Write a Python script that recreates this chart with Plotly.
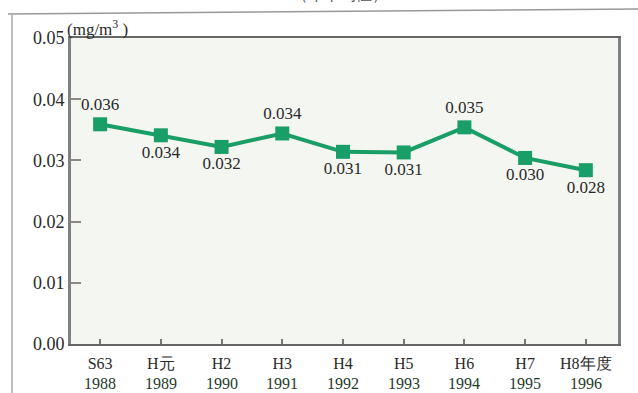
import plotly.graph_objects as go

# Annual mean concentration (mg/m3), fiscal years S63 (1988) to H8 (1996)
era_labels = ["S63", "H元", "H2", "H3", "H4", "H5", "H6", "H7", "H8年度"]
years = ["1988", "1989", "1990", "1991", "1992", "1993", "1994", "1995", "1996"]
concentration = [0.0359, 0.0341, 0.0322, 0.0344, 0.0314, 0.0313, 0.0354, 0.0304, 0.0284]
label_side = ["top", "bottom", "bottom", "top", "bottom", "bottom", "top", "bottom", "bottom"]

GREEN = "#189e66"
SERIF = "Liberation Serif, DejaVu Serif, serif"
INK = "#2a2a2a"

W, H = 638, 393
ML, MR, MT, MB = 71, 20, 38, 49
PW, PH = W - ML - MR, H - MT - MB


def px_x(p):
    return (p - ML) / PW


def px_y(p):
    return (H - MB - p) / PH


x_idx = list(range(len(years)))

fig = go.Figure()
fig.add_trace(go.Scatter(
    x=x_idx,
    y=concentration,
    mode="lines+markers+text",
    line=dict(color=GREEN, width=4),
    marker=dict(symbol="square", size=14, color=GREEN),
    text=[f"{v:.3f}" for v in concentration],
    textposition=[f"{s} center" for s in label_side],
    textfont=dict(family=SERIF, size=17, color=INK),
    cliponaxis=False,
    hoverinfo="skip",
))

fig.update_layout(
    width=W, height=H,
    margin=dict(l=ML, r=MR, t=MT, b=MB),
    paper_bgcolor="white",
    plot_bgcolor="#f4f6f1",
    showlegend=False,
    font=dict(family=SERIF, size=17, color=INK),
    xaxis=dict(
        range=[-0.48, 8.53],
        tickvals=x_idx,
        ticktext=era_labels,
        ticks="inside", ticklen=5, tickwidth=1.5, tickcolor="#777",
        ticklabelstandoff=4,
        showline=True, linecolor="#666", linewidth=2, mirror=True,
        showgrid=False, zeroline=False,
        tickfont=dict(family=SERIF, size=16, color=INK),
    ),
    yaxis=dict(
        range=[0, 0.05],
        tickvals=[0, 0.01, 0.02, 0.03, 0.04, 0.05],
        tickformat=".2f",
        ticks="inside", ticklen=10, tickwidth=2, tickcolor="#888",
        showline=True, linecolor="#808080", linewidth=3, mirror=True,
        showgrid=False, zeroline=False,
        tickfont=dict(family=SERIF, size=18, color=INK),
    ),
)

# Western-year row under the era labels
for xi, yr in zip(x_idx, years):
    fig.add_annotation(
        x=xi, y=px_y(383), xref="x", yref="paper",
        xanchor="center", yanchor="middle",
        text=yr, showarrow=False,
        font=dict(family=SERIF, size=16, color="#253a2c"),
    )

# Unit label above the y axis
fig.add_annotation(
    x=px_x(65), y=px_y(28), xref="paper", yref="paper",
    xanchor="left", yanchor="middle",
    text="(mg/m<sup>3</sup> )", showarrow=False,
    font=dict(family=SERIF, size=17, color=INK),
)

# Chart caption at the top of the page
fig.add_annotation(
    x=px_x(340), y=px_y(5), xref="paper", yref="paper",
    xanchor="center", yanchor="bottom",
    text="（年平均値）", showarrow=False,
    font=dict(family=SERIF, size=16, color="#555"),
)

# Page frame lines around the figure
fig.add_shape(type="line", xref="paper", yref="paper",
              x0=px_x(8), y0=px_y(14), x1=px_x(638), y1=px_y(9),
              line=dict(color="#999", width=1.5))
fig.add_shape(type="line", xref="paper", yref="paper",
              x0=px_x(12), y0=px_y(14), x1=px_x(12), y1=px_y(393),
              line=dict(color="#aaa", width=1.5))

fig.write_html("out.html")
